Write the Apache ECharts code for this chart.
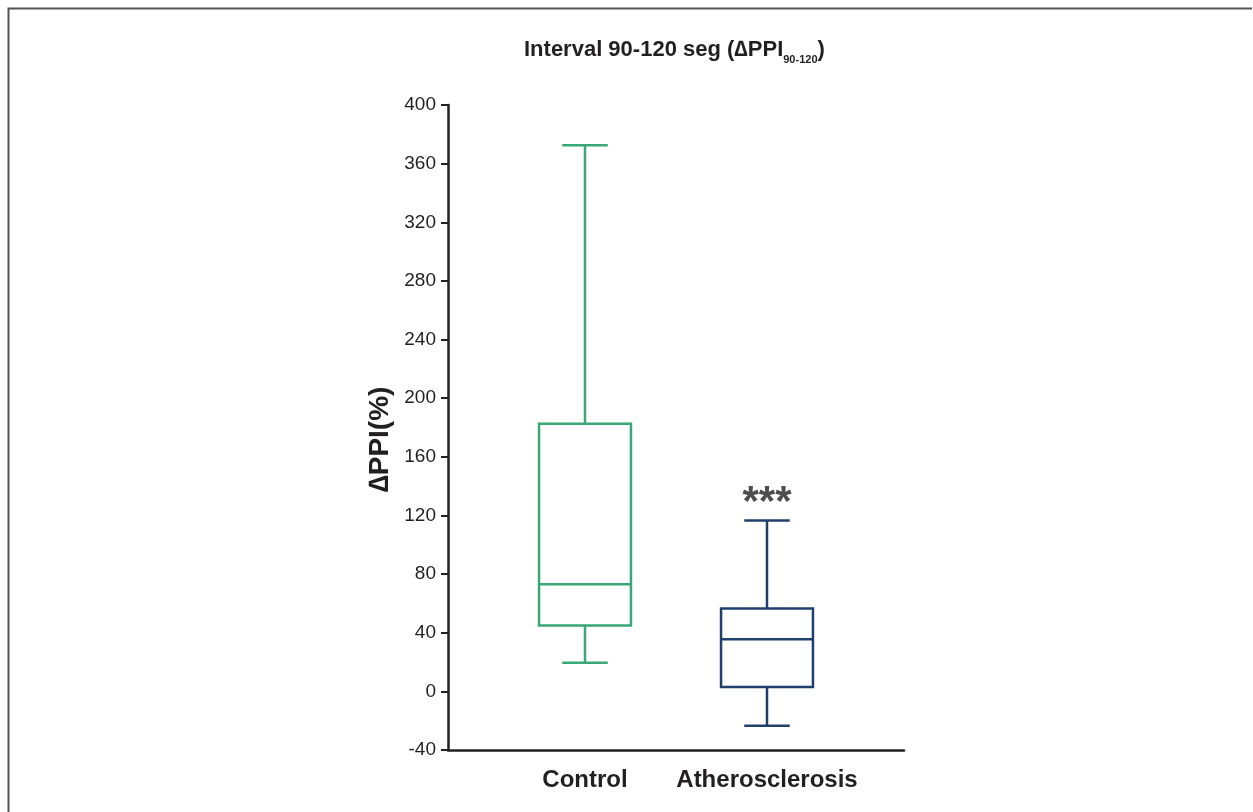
<!DOCTYPE html>
<html><head><meta charset="utf-8">
<script src="https://cdn.jsdelivr.net/npm/echarts@6/dist/echarts.min.js"></script>
<style>html,body{margin:0;padding:0;background:#fff}#c{width:1253px;height:812px}</style>
</head><body><div id="c"></div>
<script>
const categories = ['Control', 'Atherosclerosis'];
// [min, Q1, median, Q3, max]
const controlBox = [19.5, 45, 73, 182.5, 372.5];
const atheroBox = [-23.5, 3, 35.5, 56.5, 116.5];
const yTicks = [-40, 0, 40, 80, 120, 160, 200, 240, 280, 320, 360, 400];
const boxColors = ['#3aa776', '#1f3f6d'];
const sigLabel = '***';

const FONT = '"Liberation Sans Narrow", "Liberation Sans", Arial, sans-serif';
const chart = echarts.init(document.getElementById('c'));
const yMin = yTicks[0], yMax = yTicks[yTicks.length - 1];
const boxData = [[0].concat(controlBox), [1].concat(atheroBox)];

function renderBox(params, api) {
  const i = api.value(0);
  const v = [1, 2, 3, 4, 5].map(k => api.value(k));
  const band = api.size([1, 0])[0];
  const bw = band * 0.505, cw = band * 0.25;
  const cx = api.coord([i, v[0]])[0];
  const y = v.map(val => api.coord([i, val])[1]);
  const st = { stroke: boxColors[i], lineWidth: 2.5, fill: null };
  const line = (x1, y1, x2, y2) => ({ type: 'line', shape: { x1, y1, x2, y2 }, style: st });
  return {
    type: 'group',
    children: [
      line(cx, y[0], cx, y[1]),
      line(cx, y[3], cx, y[4]),
      line(cx - cw / 2, y[0], cx + cw / 2, y[0]),
      line(cx - cw / 2, y[4], cx + cw / 2, y[4]),
      { type: 'rect', shape: { x: cx - bw / 2, y: y[3], width: bw, height: y[1] - y[3] },
        style: { stroke: boxColors[i], lineWidth: 2.5, fill: '#fff' } },
      line(cx - bw / 2, y[2], cx + bw / 2, y[2])
    ]
  };
}

chart.setOption({
  animation: false,
  backgroundColor: '#fff',
  title: {
    text: '{m|Interval 90-120 seg (∆PPI}{s|90-120}{m|)}',
    left: 519, top: 30,
    textStyle: {
      rich: {
        m: { fontFamily: FONT, fontWeight: 'bold', fontSize: 22, color: '#231f20', verticalAlign: 'bottom', lineHeight: 26 },
        s: { fontFamily: FONT, fontWeight: 'bold', fontSize: 11, color: '#231f20', verticalAlign: 'bottom', lineHeight: 20, padding: [0, 0, -4, 0] }
      }
    }
  },
  graphic: [{
    type: 'polyline', silent: true,
    shape: { points: [[8.5, 812], [8.5, 8.5], [1252, 8.5]] },
    style: { stroke: '#555', lineWidth: 2, fill: null }
  }],
  grid: [
    { left: 448, right: 1253 - 904, top: 105, bottom: 812 - 750, containLabel: false },
    { left: 494, right: 1253 - 858, top: 105, bottom: 812 - 750, containLabel: false }
  ],
  xAxis: [
    { gridIndex: 0, type: 'value', min: 0, max: 1, axisLabel: { show: false }, axisTick: { show: false }, splitLine: { show: false },
      axisLine: { onZero: false, lineStyle: { color: '#231f20', width: 2.5 } } },
    { gridIndex: 1, type: 'category', data: categories, axisLine: { show: false, onZero: false }, axisTick: { show: false },
      axisLabel: { interval: 0, margin: 18, fontFamily: FONT, fontWeight: 'bold', fontSize: 24, color: '#231f20' } }
  ],
  yAxis: [
    { gridIndex: 0, type: 'value', min: yMin, max: yMax, interval: 40,
      name: '∆PPI(%)', nameLocation: 'middle', nameGap: 54, nameRotate: 90,
      nameTextStyle: { fontFamily: FONT, fontWeight: 'bold', fontSize: 28, color: '#231f20', padding: [0, 24, 0, 0] },
      axisLine: { show: true, lineStyle: { color: '#231f20', width: 2.5 } },
      axisTick: { show: true, inside: false, length: 7, lineStyle: { color: '#231f20', width: 2 } },
      axisLabel: { margin: 12, fontFamily: FONT, fontSize: 19, color: '#231f20' },
      splitLine: { show: false } },
    { gridIndex: 1, type: 'value', min: yMin, max: yMax, show: false, splitLine: { show: false } }
  ],
  series: [
    {
      type: 'custom', xAxisIndex: 1, yAxisIndex: 1,
      renderItem: renderBox,
      encode: { x: 0, y: [1, 2, 3, 4, 5] },
      data: boxData
    },
    {
      type: 'scatter', xAxisIndex: 1, yAxisIndex: 1, symbolSize: 1, itemStyle: { color: 'transparent' },
      data: [[categories[1], atheroBox[4]]],
      label: { show: true, position: 'top', distance: -4, formatter: sigLabel,
        fontFamily: FONT, fontWeight: 'bold', fontSize: 42, color: '#231f20' }
    }
  ]
});
</script></body></html>
